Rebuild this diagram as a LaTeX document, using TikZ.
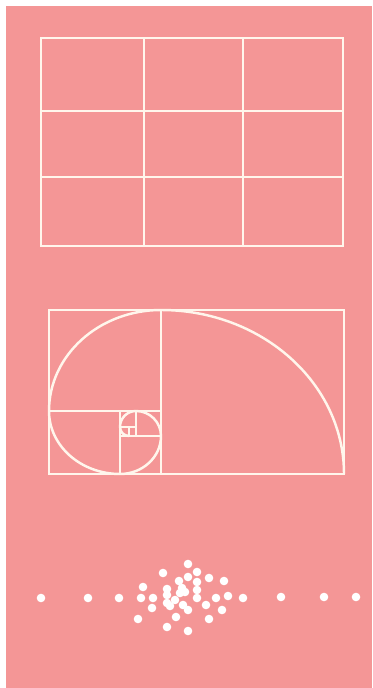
\documentclass[tikz,border=0pt]{standalone}
\usepackage{tikz}

\definecolor{salmon}{RGB}{244,150,150}
\definecolor{cream}{RGB}{255,246,236}

\begin{document}
\begin{tikzpicture}[x=0.02cm, y=-0.02cm,
    gridline/.style={draw=cream, line width=1.4pt},
    spot/.style={fill=white}]
  \useasboundingbox (0,0) rectangle (372,688);
  \fill[white] (0,0) rectangle (372,688);
  \fill[salmon] (6,6) rectangle (372,688);
  % rule of thirds grid
  \draw[gridline] (41,38) rectangle (343,246);
  \draw[gridline] (144,38) -- (144,246) (243,38) -- (243,246);
  \draw[gridline] (41,111) -- (343,111) (41,177) -- (343,177);
  % golden rectangle
  \draw[gridline] (49,310) rectangle (344,474);
  \draw[gridline] (161,310) -- (161,474) (49,411) -- (161,411) (120,411) -- (120,474);
  \draw[gridline] (120,436) -- (161,436) (136,411) -- (136,436) (120,427) -- (136,427) (129,427) -- (129,436);
  \draw[gridline] (344,474) arc[start angle=0, end angle=-90, x radius=183, y radius=164]
    arc[start angle=-90, end angle=-180, x radius=112, y radius=101]
    arc[start angle=180, end angle=90, x radius=71, y radius=63]
    arc[start angle=90, end angle=0, x radius=41, y radius=38]
    arc[start angle=0, end angle=-90, x radius=25, y radius=25]
    arc[start angle=-90, end angle=-180, x radius=16, y radius=16]
    arc[start angle=180, end angle=90, x radius=9, y radius=9];
  % scattered dots
  \foreach \px/\py in {41/598, 88/598, 119/598, 141/598, 153/598, 216/598, 228/596, 243/598, 281/597, 324/597, 356/597,
      188/564, 163/573, 197/572, 188/577, 209/578, 224/581, 179/581, 143/587, 197/582, 167/589,
      182/588, 180/593, 197/590, 185/592, 167/595, 175/600, 197/598, 167/603, 183/605, 170/606,
      206/605, 152/608, 188/610, 222/610, 176/617, 138/619, 209/619, 167/627, 188/631}
    \fill[spot] (\px,\py) circle (4.3);
\end{tikzpicture}
\end{document}
